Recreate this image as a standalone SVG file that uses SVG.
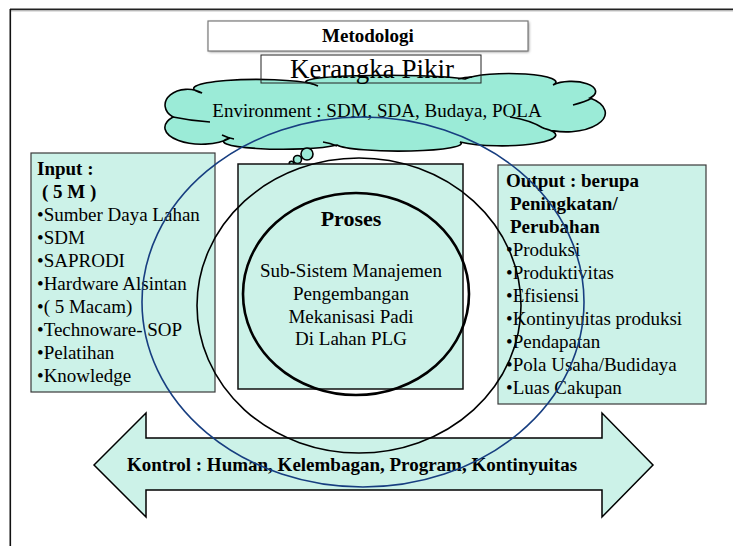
<svg xmlns="http://www.w3.org/2000/svg" width="733" height="546" viewBox="0 0 733 546">
<defs>
<style>
.t{font-family:"Liberation Serif","Times New Roman",serif;font-size:19px;fill:#000}
.b{font-weight:bold}
.box{fill:#CCF2E8;stroke:#3a3a3a;stroke-width:1.2}
.ln{fill:none;stroke:#000;stroke-width:1.5}
.cl{fill:#9BEBD7;stroke:#000;stroke-width:1.6}
</style>
<filter id="sh" x="-10%" y="-40%" width="120%" height="200%"><feGaussianBlur stdDeviation="1.5"/></filter>
</defs>
<rect width="733" height="546" fill="#fff"/>
<g id="frame">
<line x1="10" y1="10.8" x2="733" y2="10.8" stroke="#9a9a9a" stroke-width="1"/>
<line x1="10" y1="9.3" x2="733" y2="9.3" stroke="#222" stroke-width="1.4"/>
<line x1="10.3" y1="9" x2="10.3" y2="546" stroke="#111" stroke-width="1.6"/>
</g>
<g id="metodologi">
<rect x="209" y="22" width="320" height="30" fill="#8a8a8a" filter="url(#sh)"/>
<rect x="208" y="21" width="320" height="30" fill="#fff" stroke="#7a7a7a" stroke-width="1.2"/>
<text class="t b" x="368" y="42" text-anchor="middle">Metodologi</text>
</g>
<g id="environment">
<path class="cl" d="M173,117 A20,14 0 1 1 202,93 A56,8 0 0 1 313,84 A80,6 0 0 1 465,79 A44,8 0 0 1 553,85 A19,8 0 0 1 590,98 A35,17 0 1 1 543,128 A45,9 0 0 1 460,142 A62,7.5 0 0 1 337,145 A54,7 0 0 1 230,138 A35,16 0 0 1 173,117 Z"/>
<path fill="none" stroke="#000" stroke-width="1.6" d="M173,117 Q192,121 210,122 M222,135 Q228,138 234,139 M323,142 Q330,143 337,146 M305,82 Q312,83 318,86 M458,79 Q465,77 472,77 M573,105 Q585,102 592,98 M510,117 Q530,120 543,128"/>
<text class="t" x="377" y="117" text-anchor="middle">Environment : SDM, SDA, Budaya, POLA</text>
<circle cx="307" cy="154" r="6" class="cl" stroke-width="1"/>
<circle cx="297.5" cy="159.5" r="4" class="cl" stroke-width="1"/>
<circle cx="291.5" cy="163.5" r="2.3" class="cl" stroke-width="1"/>
</g>
<g id="kerangka">
<rect x="261" y="55" width="220" height="28" fill="none" stroke="#222" stroke-width="1"/>
<text class="t" x="372" y="78" text-anchor="middle" style="font-size:27px">Kerangka Pikir</text>
</g>
<g id="input">
<rect class="box" x="31" y="153" width="184" height="239"/>
<text class="t b" x="37" y="175">Input :</text>
<text class="t b" x="42" y="198">( 5 M )</text>
<text class="t" x="37" y="221">•Sumber Daya Lahan</text>
<text class="t" x="37" y="244">•SDM</text>
<text class="t" x="37" y="267">•SAPRODI</text>
<text class="t" x="37" y="290">•Hardware Alsintan</text>
<text class="t" x="37" y="313">•( 5 Macam)</text>
<text class="t" x="37" y="336">•Technoware- SOP</text>
<text class="t" x="37" y="359">•Pelatihan</text>
<text class="t" x="37" y="382">•Knowledge</text>
</g>
<g id="output">
<rect class="box" x="498" y="165" width="208" height="239" stroke="#222"/>
<text class="t b" x="506" y="187">Output : berupa</text>
<text class="t b" x="510" y="210">Peningkatan/</text>
<text class="t b" x="510" y="233">Perubahan</text>
<text class="t" x="506" y="256">•Produksi</text>
<text class="t" x="506" y="279">•Produktivitas</text>
<text class="t" x="506" y="302">•Efisiensi</text>
<text class="t" x="506" y="325">•Kontinyuitas produksi</text>
<text class="t" x="506" y="348">•Pendapatan</text>
<text class="t" x="506" y="371">•Pola Usaha/Budidaya</text>
<text class="t" x="506" y="394">•Luas Cakupan</text>
</g>
<g id="proses">
<rect x="238" y="164" width="225" height="225" fill="#CCF2E8" stroke="#111" stroke-width="1.5"/>
<ellipse cx="356" cy="294" rx="113" ry="101" fill="none" stroke="#000" stroke-width="2.6"/>
<text class="t b" x="351" y="226" text-anchor="middle" style="font-size:22px">Proses</text>
<text class="t" x="351" y="277" text-anchor="middle">Sub-Sistem Manajemen</text>
<text class="t" x="351" y="300" text-anchor="middle">Pengembangan</text>
<text class="t" x="351" y="323" text-anchor="middle">Mekanisasi Padi</text>
<text class="t" x="351" y="345" text-anchor="middle">Di Lahan PLG</text>
</g>
<g id="kontrol">
<path d="M94,465 L146,413 L146,438 L602,438 L602,413 L653,465 L602,517 L602,490 L146,490 L146,517 Z" fill="#CCF2E8" stroke="#000" stroke-width="1.5"/>
<text class="t b" x="127" y="471">Kontrol : Human, Kelembagan, Program, Kontinyuitas</text>
</g>
<g id="sistem-circle">
<ellipse cx="359" cy="305.5" rx="162" ry="147.5" fill="none" stroke="#000" stroke-width="1.6"/>
</g>
<g id="lingkup-ellipse">
<ellipse cx="363" cy="302" rx="221" ry="185" fill="none" stroke="#173E80" stroke-width="1.6"/>
</g>
<g id="connectors"></g>
</svg>
